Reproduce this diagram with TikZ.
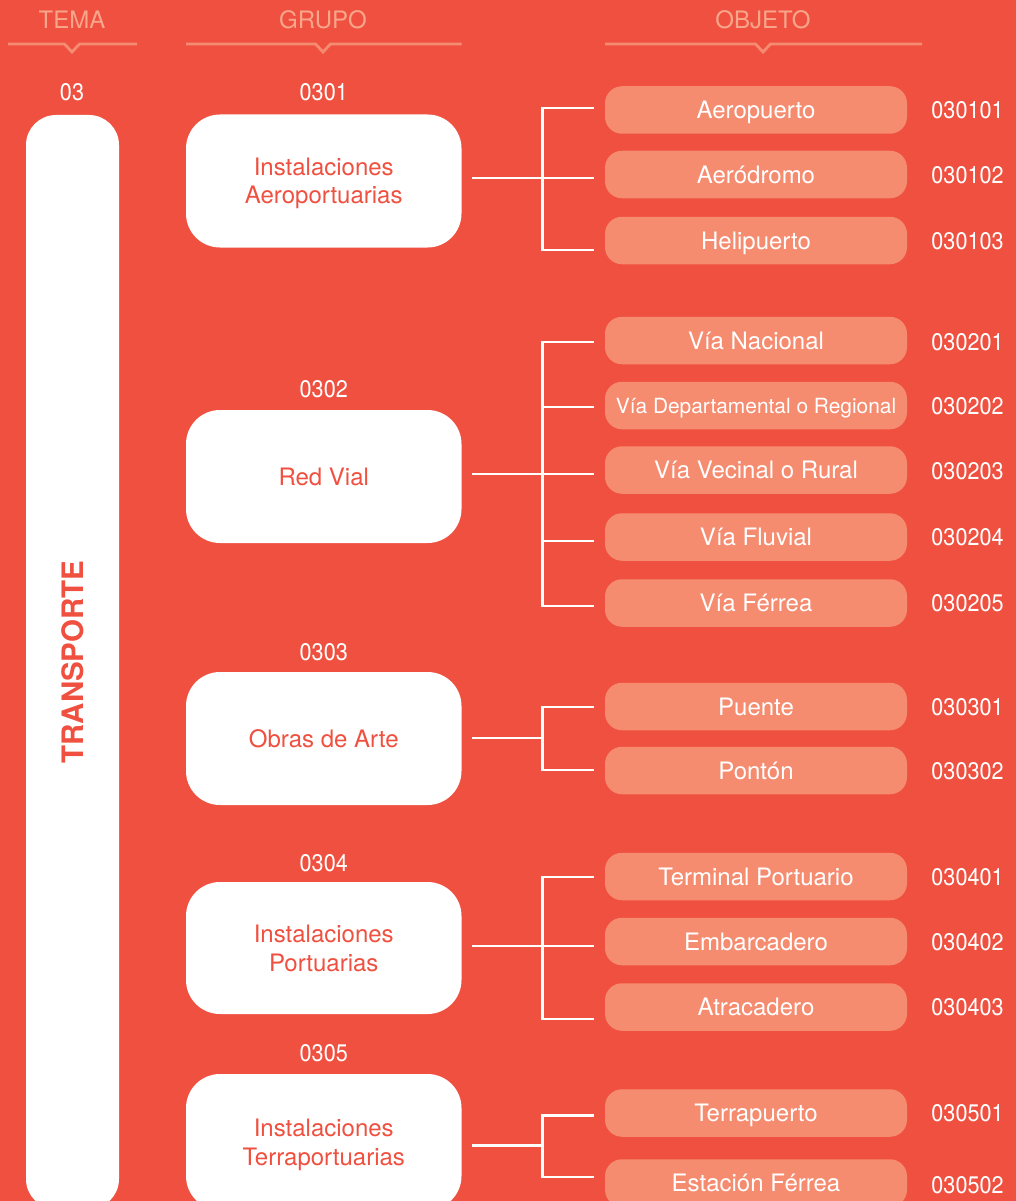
\documentclass[tikz,border=0pt]{standalone}
\usepackage{fontspec}
\setmainfont{TeX Gyre Heros}
\newfontfamily\condfont[FakeStretch=0.9]{TeX Gyre Heros}
\usetikzlibrary{calc}
\definecolor{bgred}{HTML}{F0503F}
\definecolor{salmon}{HTML}{F58C70}
\definecolor{headtxt}{HTML}{F8A68B}
\definecolor{headline}{HTML}{F58B70}
\begin{document}
\begin{tikzpicture}[x=1pt,y=-1pt,
  grp/.style={rectangle, rounded corners=34pt, fill=white, minimum width=275.5pt, minimum height=133pt, inner sep=0pt, text=bgred, align=center, font=\fontsize{24}{28.5}\selectfont},
  obj/.style={rectangle, rounded corners=17pt, fill=salmon, minimum width=302pt, minimum height=47.5pt, inner sep=0pt, text=white, font=\fontsize{24}{28}\selectfont, text height=17.2pt, text depth=0pt},
  codelbl/.style={text=white, font=\condfont\fontsize{24}{28}\selectfont, text height=17pt, text depth=0pt, inner sep=0pt},
  headlbl/.style={text=headtxt, font=\fontsize{24}{28}\selectfont, text height=17pt, text depth=0pt, inner sep=0pt},
  hline/.style={draw=headline, line width=2.8pt},
  conn/.style={draw=white, line width=2.7pt},
  vbar/.style={conn, line cap=rect},
]
\useasboundingbox (0,0) rectangle (1016,1201);
\fill[bgred] (0,0) rectangle (1016,1201);
\clip (0,0) rectangle (1016,1201);

% headers
\node[headlbl] (hT) at (72,20) {TEMA};
\node[headlbl] (hG) at (323,20) {GRUPO};
\node[headlbl] (hO) at (763,20) {OBJETO};
\draw[hline] (8,44) -- (64.5,44) -- (72,52) -- (79.5,44) -- (137,44);
\draw[hline] (186,44) -- (315.5,44) -- (323,52) -- (330.5,44) -- (461.5,44);
\draw[hline] (605,44) -- (755.5,44) -- (763,52) -- (770.5,44) -- (922,44);

% tema
\node[codelbl] (n03) at (72,91.7) {03};
\node[rotate=90, fill=white, rounded corners=30pt, minimum width=1094pt, minimum height=93pt, inner sep=0pt, text=bgred, font=\bfseries\fontsize{29.5}{32}\selectfont] (tema) at (72.5,662) {TRANSPORTE};

% groups
\node[codelbl] (n1) at (323.75,91.7) {0301};
\node[grp] (g1) at (323.75,181) {Instalaciones\\\smash{Aeroportuarias}};
\node[codelbl] (n2) at (323.75,388.5) {0302};
\node[grp] (g2) at (323.75,476.5) {Red Vial};
\node[codelbl] (n3) at (323.75,652) {0303};
\node[grp] (g3) at (323.75,738.5) {Obras de Arte};
\node[codelbl] (n4) at (323.75,862.5) {0304};
\node[grp, minimum height=132pt] (g4) at (323.75,948) {Instalaciones\\\smash{Portuarias}};
\node[codelbl] (n5) at (323.75,1053.4) {0305};
\node[grp, minimum height=136pt] (g5) at (323.75,1142) {Instalaciones\\\smash{Terraportuarias}};

% objects
\node[obj] (o11) at (756,110) {Aeropuerto};
\node[obj] (o12) at (756,174.5) {Aeródromo};
\node[obj] (o13) at (756,240.5) {Helipuerto};
\node[obj] (o21) at (756,340.5) {Vía Nacional};
\node[obj, font=\fontsize{20.9}{24}\selectfont, text height=15pt] (o22) at (756,405.5) {Vía Departamental o Regional};
\node[obj] (o23) at (756,470) {Vía Vecinal o Rural};
\node[obj] (o24) at (756,537) {Vía Fluvial};
\node[obj] (o25) at (756,603) {Vía Férrea};
\node[obj] (o31) at (756,706.5) {Puente};
\node[obj] (o32) at (756,770.5) {Pontón};
\node[obj] (o41) at (756,876.5) {Terminal Portuario};
\node[obj] (o42) at (756,941.5) {Embarcadero};
\node[obj] (o43) at (756,1007) {Atracadero};
\node[obj] (o51) at (756,1113) {Terrapuerto};
\node[obj] (o52) at (756,1183) {Estación Férrea};

% codes
\node[codelbl] (c11) at (967.5,110.5) {030101};
\node[codelbl] (c12) at (967.5,175) {030102};
\node[codelbl] (c13) at (967.5,241) {030103};
\node[codelbl] (c21) at (967.5,341.5) {030201};
\node[codelbl] (c22) at (967.5,406) {030202};
\node[codelbl] (c23) at (967.5,470.5) {030203};
\node[codelbl] (c24) at (967.5,537) {030204};
\node[codelbl] (c25) at (967.5,603) {030205};
\node[codelbl] (c31) at (967.5,707) {030301};
\node[codelbl] (c32) at (967.5,771) {030302};
\node[codelbl] (c41) at (967.5,877) {030401};
\node[codelbl] (c42) at (967.5,942) {030402};
\node[codelbl] (c43) at (967.5,1007) {030403};
\node[codelbl] (c51) at (967.5,1113) {030501};
\node[codelbl] (c52) at (967.5,1185) {030502};

% connectors group 1
\draw[conn] ([xshift=-11pt,yshift=2pt]o11.west) -- ++(-51,0) coordinate (e11);
\draw[conn] ([xshift=-11pt,yshift=-3.5pt]o12.west) -- ++(-51,0) coordinate (e12);
\draw[conn] ([xshift=-11pt,yshift=-9.5pt]o13.west) -- ++(-51,0) coordinate (e13);
\draw[vbar] (e11) -- (e13);
\draw[conn] ([xshift=10pt,yshift=3pt]g1.east) -- ++(71.5,0);
% group 2
\draw[conn] ([xshift=-11pt,yshift=-1.5pt]o21.west) -- ++(-51,0) coordinate (e21);
\draw[conn] ([xshift=-11pt,yshift=-1.5pt]o22.west) -- ++(-51,0) coordinate (e22);
\draw[conn] ([xshift=-11pt,yshift=-4pt]o23.west) -- ++(-51,0) coordinate (e23);
\draw[conn] ([xshift=-11pt,yshift=-4pt]o24.west) -- ++(-51,0) coordinate (e24);
\draw[conn] ([xshift=-11pt,yshift=-3pt]o25.west) -- ++(-51,0) coordinate (e25);
\draw[vbar] (e21) -- (e25);
\draw[conn] ([xshift=10pt,yshift=2.5pt]g2.east) -- ++(71.5,0);
% group 3
\draw[conn] ([xshift=-11pt,yshift=-0.5pt]o31.west) -- ++(-51,0) coordinate (e31);
\draw[conn] ([xshift=-11pt,yshift=0.5pt]o32.west) -- ++(-51,0) coordinate (e32);
\draw[vbar] (e31) -- (e32);
\draw[conn] ([xshift=10pt,yshift=0.5pt]g3.east) -- ++(71.5,0);
% group 4
\draw[conn] ([xshift=-11pt,yshift=-0.5pt]o41.west) -- ++(-51,0) coordinate (e41);
\draw[conn] ([xshift=-11pt,yshift=-4.5pt]o42.west) -- ++(-51,0) coordinate (e42);
\draw[conn] ([xshift=-11pt,yshift=-12pt]o43.west) -- ++(-51,0) coordinate (e43);
\draw[vbar] (e41) -- (e43);
\draw[conn] ([xshift=10pt,yshift=2pt]g4.east) -- ++(71.5,0);
% group 5
\draw[conn] ([xshift=-11pt,yshift=-2.7pt]o51.west) -- ++(-51,0) coordinate (e51);
\draw[conn] ([xshift=-11pt,yshift=6pt]o52.west) -- ++(-51,0) coordinate (e52);
\draw[vbar] (e51) -- (e52);
\draw[conn] ([xshift=10pt,yshift=-3.7pt]g5.east) -- ++(71.5,0);
\end{tikzpicture}
\end{document}
